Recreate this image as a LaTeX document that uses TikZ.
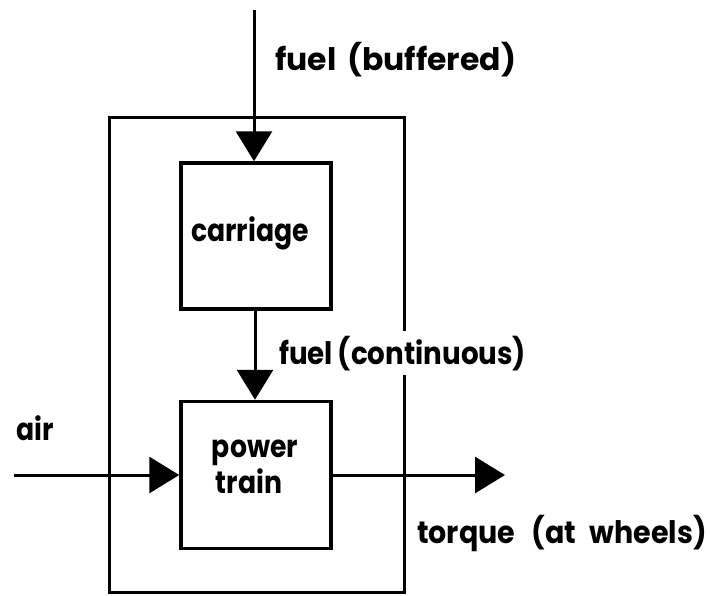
\documentclass[tikz,border=0pt]{standalone}
\usepackage{fontspec}
\setmainfont{Poppins}[FakeStretch=0.86]
\usetikzlibrary{arrows.meta}
\begin{document}
\begin{tikzpicture}[x=1pt,y=-1pt,
  box/.style={draw,line width=3.5pt,minimum width=150pt,minimum height=146pt,inner sep=0pt},
  frame/.style={draw,line width=3pt},
  lab/.style={font=\fontsize{31}{36}\selectfont\bfseries,inner sep=0pt},
  flow/.style={line width=3pt,-{Triangle[length=30pt,width=36pt]}}]
\useasboundingbox (0,0) rectangle (710,595);
\draw[frame] (109,117) rectangle (404,592);
\node[box] (car) at (256,236) {};
\node[lab,anchor=base] (cartxt) at (250,241) {carriage};
\node[box,minimum height=147pt] (pt) at (256,475) {};
\node[lab,anchor=base] (pttxt1) at (255,457) {power};
\node[lab,anchor=base] (pttxt2) at (249,493) {train};
\coordinate (fueltop) at (254,10);
\coordinate (airin) at (14,475);
\coordinate (torqout) at (505,475);
\draw[flow] (fueltop) -- (fueltop |- car.north);
\draw[flow] (car.south -| 255,0) -- (pt.north -| 255,0);
\draw[flow] (airin) -- (pt.west);
\draw[flow] (pt.east) -- (torqout);
\node[lab,anchor=base west] (fb) at (275,70) {\scalebox{1.18}[1]{fuel\hspace{0.3em}(buffered)}};
\node[lab,anchor=base west,fill=white,inner ysep=5pt,inner xsep=1pt] (fc) at (278,364) {\scalebox{1.04}[1]{fuel\hspace{0.15em}(continuous)}};
\node[lab,anchor=base west] (air) at (16,440) {air};
\node[lab,anchor=base west] (tq) at (417,543) {\scalebox{1.07}[1]{torque\hspace{0.5em}(at\hspace{0.4em}wheels)}};
\end{tikzpicture}
\end{document}
